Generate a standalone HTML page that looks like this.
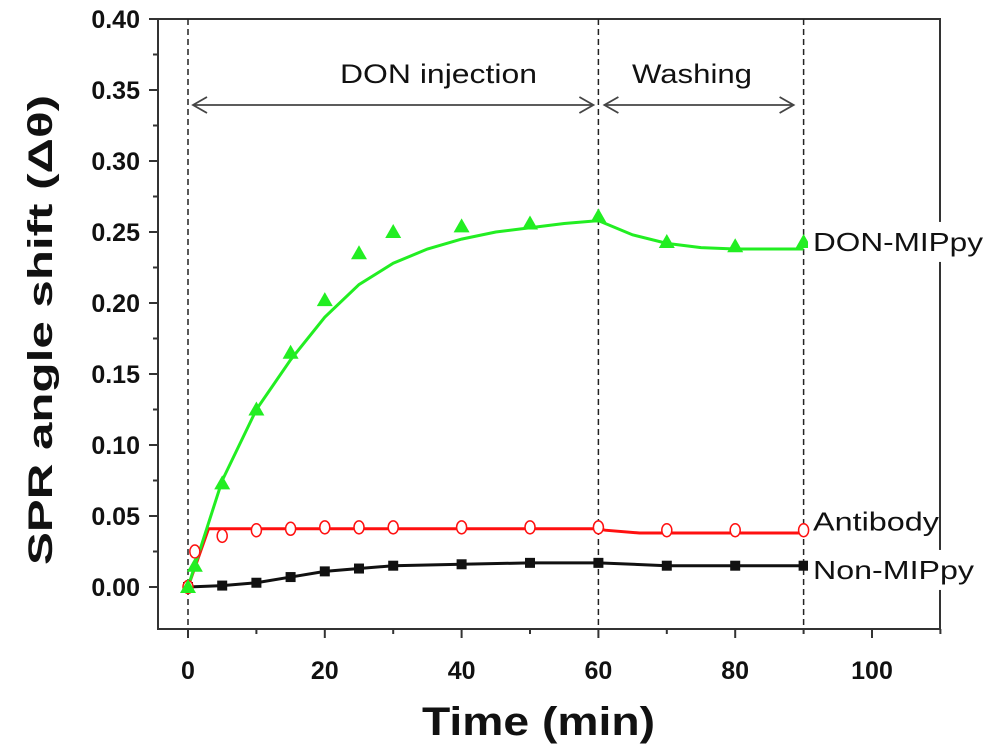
<!DOCTYPE html>
<html><head><meta charset="utf-8"><style>
body{margin:0;background:#fff}
svg{display:block;font-family:"Liberation Sans",Arial,sans-serif}
</style></head><body>
<svg id="chart" width="1000" height="753" viewBox="0 0 1000 753"></svg>
<script>
const xTicks=[0,20,40,60,80,100];
const yTicks=[0.00,0.05,0.10,0.15,0.20,0.25,0.30,0.35,0.40];
const greenT=[0,1,5,10,15,20,25,30,40,50,60,70,80,90];
const greenV=[0,0.015,0.073,0.125,0.165,0.202,0.235,0.250,0.254,0.256,0.261,0.243,0.240,0.243];
const greenFitT=[0,2,5,10,15,20,25,30,35,40,45,50,55,60,65,70,75,80,90];
const greenFitV=[0,0.03,0.075,0.125,0.16,0.19,0.213,0.228,0.238,0.245,0.25,0.253,0.256,0.258,0.248,0.242,0.239,0.238,0.238];
const redT=[0,1,5,10,15,20,25,30,40,50,60,70,80,90];
const redV=[0,0.025,0.036,0.040,0.041,0.042,0.042,0.042,0.042,0.042,0.042,0.040,0.040,0.040];
const redFitT=[0,3,60,61,66,90];
const redFitV=[0,0.041,0.041,0.040,0.038,0.038];
const blackT=[0,5,10,15,20,25,30,40,50,60,70,80,90];
const blackV=[0,0.001,0.003,0.007,0.011,0.013,0.015,0.016,0.017,0.017,0.015,0.015,0.015];
const markerX=[0,60,90];

const X0=188,XS=6.84,Y0=587,YS=1420;
const L=158,R=940,T=19,B=629;
const sx=v=>X0+v*XS, sy=v=>Y0-v*YS;
const svg=document.getElementById('chart');
const NS='http://www.w3.org/2000/svg';
function mk(tag,attrs,parent){const e=document.createElementNS(NS,tag);for(const k in attrs)e.setAttribute(k,attrs[k]);(parent||svg).appendChild(e);return e;}

let f=mk('rect',{x:L,y:T,width:R-L,height:B-T,fill:'none',stroke:'#333','stroke-width':2});


yTicks.forEach((v,i)=>{
  let t=mk('line',{x1:L-9,x2:L,y1:sy(v),y2:sy(v),stroke:'#333','stroke-width':2});
  
  
  if(i<yTicks.length-1){let m=mk('line',{x1:L-5,x2:L,y1:sy(v+0.025),y2:sy(v+0.025),stroke:'#333','stroke-width':2});
  
  }
  let lb=mk('text',{x:L-18,y:sy(v)+9,'text-anchor':'end','font-size':25,'font-weight':'bold',fill:'#111'});
  lb.textContent=v.toFixed(2);
  
  
});
xTicks.forEach((v,i)=>{
  let t=mk('line',{x1:sx(v),x2:sx(v),y1:B,y2:B+9,stroke:'#333','stroke-width':2});
  
  
  let m=mk('line',{x1:sx(v+10),x2:sx(v+10),y1:B,y2:B+5,stroke:'#333','stroke-width':2});
  
  
  let lb=mk('text',{x:sx(v),y:679,'text-anchor':'middle','font-size':25,'font-weight':'bold',fill:'#111'});
  lb.textContent=v;
  
  
});
markerX.forEach(v=>{
  let d=mk('line',{x1:sx(v),x2:sx(v),y1:T,y2:B,stroke:'#222','stroke-width':1.5,'stroke-dasharray':'6,4'});
  
  
});
function arrow(x1,x2,name){
  const y=105;
  let g=mk('g',{stroke:'#444','stroke-width':1.8,fill:'none'});
  
  
  mk('line',{x1:x1,x2:x2,y1:y,y2:y},g);
  mk('polyline',{points:`${x1+14},${y-8} ${x1},${y} ${x1+14},${y+8}`},g);
  mk('polyline',{points:`${x2-14},${y-8} ${x2},${y} ${x2-14},${y+8}`},g);
}
arrow(sx(0)+5,sx(60)-5,'injection-arrow');
arrow(sx(60)+6,sx(90)-10,'washing-arrow');
let a1=mk('text',{x:340,y:83,'font-size':27,fill:'#111',textLength:197,lengthAdjust:'spacingAndGlyphs'});a1.textContent='DON injection';


let a2=mk('text',{x:632,y:83,'font-size':27,fill:'#111',textLength:120,lengthAdjust:'spacingAndGlyphs'});a2.textContent='Washing';



function path(ts,vs,color,name){
  let p=mk('polyline',{points:ts.map((t,i)=>sx(t)+','+sy(vs[i])).join(' '),fill:'none',stroke:color,'stroke-width':3});
  
  
}
path(blackT,blackV,'#111','non-mippy-line');
path(redFitT,redFitV,'#ff1010','antibody-fit');
path(greenFitT,greenFitV,'#22ee22','don-mippy-fit');
blackT.forEach((t,i)=>{let r=mk('rect',{x:sx(t)-5,y:sy(blackV[i])-5,width:10,height:10,fill:'#111'});
  
  });
redT.forEach((t,i)=>{let c=mk('ellipse',{cx:sx(t),cy:sy(redV[i]),rx:5,ry:6.5,fill:'#fff',stroke:'#ff1010','stroke-width':1.5});
  
  });
greenT.forEach((t,i)=>{const x=sx(t),y=sy(greenV[i]);let p=mk('polygon',{points:`${x},${y-8} ${x-8},${y+6} ${x+8},${y+6}`,fill:'#22ee22'});
  
  });

[['DON-MIPpy',0.243,'don-mippy-label',170,true],['Antibody',0.046,'antibody-label',126,false],['Non-MIPpy',0.012,'non-mippy-label',161,true]].forEach(([txt,v,n,w,box])=>{
  if(box){let bg=mk('rect',{x:808,y:sy(v)-20,width:w+12,height:40,fill:'#fff'});
  
  }
  let t=mk('text',{x:813,y:sy(v)+9,'font-size':26,fill:'#111',textLength:w,lengthAdjust:'spacingAndGlyphs'});t.textContent=txt;
  
  
});
let xt=mk('text',{x:422,y:735,'font-size':40,'font-weight':'bold',fill:'#111',textLength:233,lengthAdjust:'spacingAndGlyphs'});xt.textContent='Time (min)';


let yt=mk('text',{x:0,y:0,'font-size':34,'font-weight':'bold',fill:'#111',textLength:470,lengthAdjust:'spacingAndGlyphs',transform:'translate(52,565) rotate(-90)'});yt.textContent='SPR angle shift (Δθ)';


</script>
</body></html>
